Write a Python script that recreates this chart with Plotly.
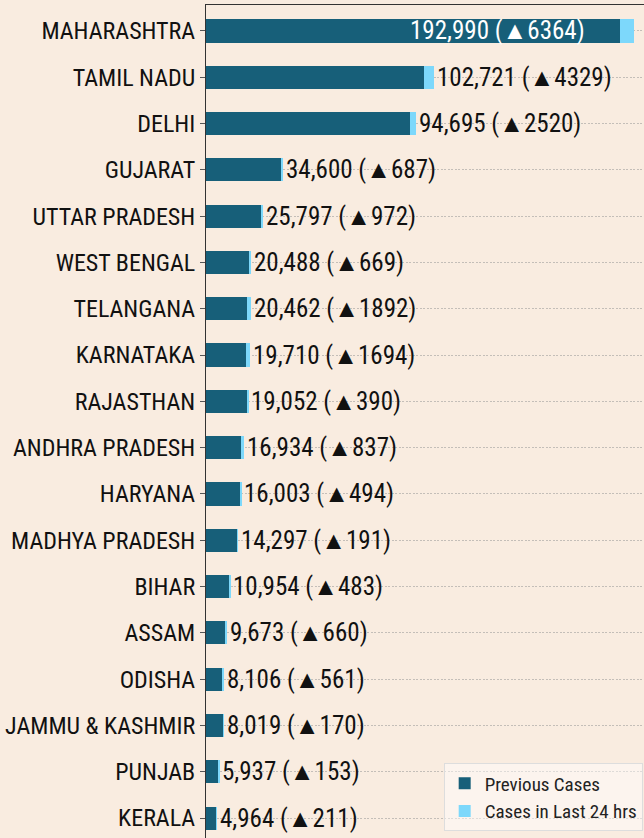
import plotly.graph_objects as go

states = ["MAHARASHTRA", "TAMIL NADU", "DELHI", "GUJARAT", "UTTAR PRADESH",
          "WEST BENGAL", "TELANGANA", "KARNATAKA", "RAJASTHAN", "ANDHRA PRADESH",
          "HARYANA", "MADHYA PRADESH", "BIHAR", "ASSAM", "ODISHA",
          "JAMMU & KASHMIR", "PUNJAB", "KERALA"]
total_cases = [192990, 102721, 94695, 34600, 25797, 20488, 20462, 19710, 19052,
               16934, 16003, 14297, 10954, 9673, 8106, 8019, 5937, 4964]
new_cases = [6364, 4329, 2520, 687, 972, 669, 1892, 1694, 390, 837, 494, 191,
             483, 660, 561, 170, 153, 211]
previous_cases = [t - n for t, n in zip(total_cases, new_cases)]

FONT = "Liberation Sans Narrow, Arial Narrow, Roboto Condensed, sans-serif"
BG = "#f9ece0"
DARK = "#175f79"
LIGHT = "#7dd8fb"

fig = go.Figure()
fig.add_trace(go.Bar(y=states, x=previous_cases, orientation="h", name="Previous Cases",
                     marker=dict(color=DARK, line=dict(width=0)), width=0.5))
fig.add_trace(go.Bar(y=states, x=new_cases, orientation="h", name="Cases in Last 24 hrs",
                     marker=dict(color=LIGHT, line=dict(width=0)), width=0.5))

max_total = max(total_cases)
annotations = []
for s, t, n, p in zip(states, total_cases, new_cases, previous_cases):
    label = f"{t:,} (\u25B2{n})"
    if t == max_total:
        annotations.append(dict(x=p, y=s, xref="x", yref="y", text=label, showarrow=False,
                                xanchor="right", yanchor="middle", xshift=-33,
                                font=dict(family=FONT, size=25, color="white")))
    else:
        annotations.append(dict(x=t, y=s, xref="x", yref="y", text=label, showarrow=False,
                                xanchor="left", yanchor="middle", xshift=1,
                                font=dict(family=FONT, size=25, color="#111111")))

fig.update_layout(
    width=644, height=838,
    margin=dict(l=206, r=0, t=5, b=0, autoexpand=False),
    paper_bgcolor=BG, plot_bgcolor=BG,
    barmode="stack",
    bargap=0.5,
    showlegend=True,
    legend=dict(x=0.997, xanchor="right", y=0.008, yanchor="bottom",
                bgcolor="rgba(255,255,255,0.45)", bordercolor="#dddddd", borderwidth=1,
                font=dict(family=FONT, size=19, color="#222222"),
                traceorder="normal", tracegroupgap=2, itemwidth=30),
    annotations=annotations,
    xaxis=dict(range=[0, 197600], showgrid=False, zeroline=False, showticklabels=False,
               showline=True, mirror=True, linecolor="#333333", linewidth=1, ticks="",
               automargin=False),
    yaxis=dict(type="category", categoryorder="array", categoryarray=states,
               range=[17.43, -0.56], showgrid=True, gridcolor="#c4beb8", griddash="2px,1.5px",
               gridwidth=1, showline=True, linecolor="#333333", linewidth=1,
               ticks="outside", ticklen=5, tickcolor="#555555", automargin=False,
               tickfont=dict(family=FONT, size=24, color="#111111")),
)

fig.write_html("out.html", config={"displayModeBar": False},
               post_script="document.body.style.margin='0px';document.body.style.overflow='hidden';")
